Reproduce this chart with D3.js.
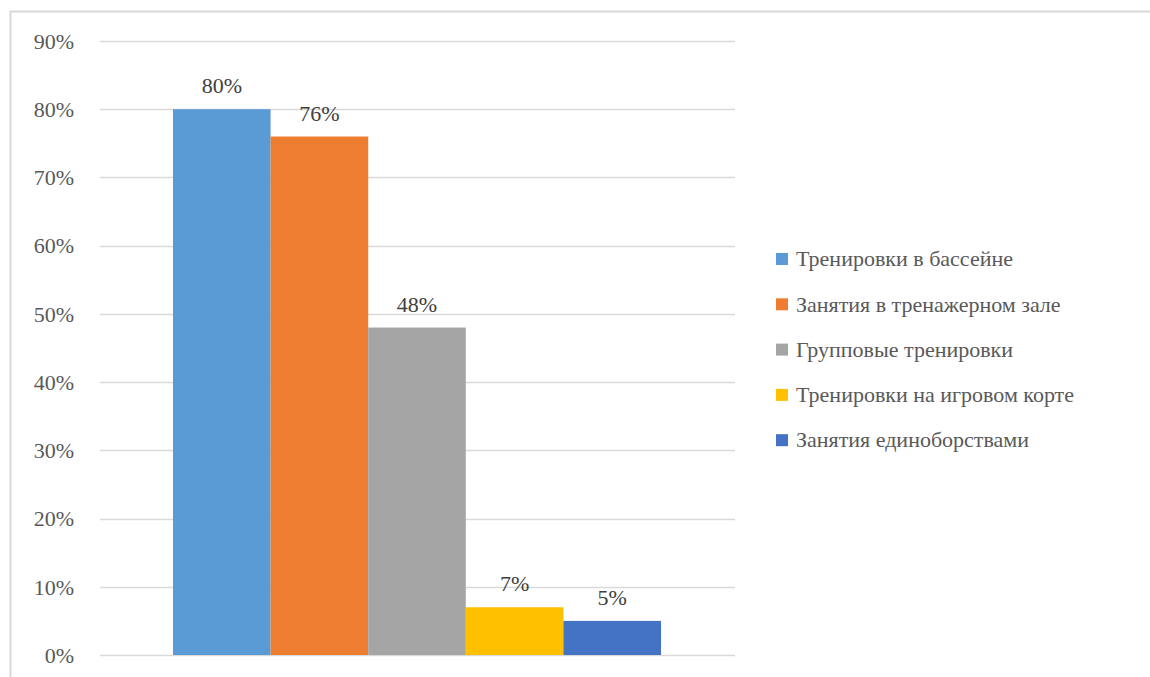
<!DOCTYPE html>
<html>
<head>
<meta charset="utf-8">
<script src="https://cdn.jsdelivr.net/npm/d3@7"></script>
<style>
  @font-face {
    font-family: "ChartSerif";
    src: local("Liberation Serif"), local("LiberationSerif"), local("LiberationSerif-Regular"), local("Times New Roman"), local("Tinos");
  }
</style>
</head>
<body style="margin:0;padding:0;background:#fff">
<svg id="chart" width="1150" height="677"></svg>
<script>
// Share of members by type of training
const categories = [
  "Тренировки в бассейне",
  "Занятия в тренажерном зале",
  "Групповые тренировки",
  "Тренировки на игровом корте",
  "Занятия единоборствами"
];
const values = [80, 76, 48, 7, 5];
const colors = ["#5b9bd5", "#ed7d31", "#a5a5a5", "#ffc000", "#4472c4"];
const yTicks = [0, 10, 20, 30, 40, 50, 60, 70, 80, 90];

const FONT = "'Liberation Serif', ChartSerif, 'Times New Roman', serif";
const svg = d3.select("#chart").style("display", "block");
const W = 1150, H = 677;

// Chart frame
svg.append("rect")
  .attr("x", 10.5).attr("y", 11.5)
  .attr("width", W).attr("height", H)
  .attr("fill", "#fff")
  .attr("stroke", "#d9d9d9").attr("stroke-width", 2);

const plot = { left: 100, right: 735, top: 41, bottom: 655 };

const y = d3.scaleLinear().domain([0, 90]).range([plot.bottom, plot.top]);
const x = d3.scaleBand()
  .domain(categories)
  .range([plot.left + 73, plot.right - 74])
  .paddingInner(0).paddingOuter(0);

// Horizontal gridlines
svg.append("g")
  .selectAll("line")
  .data(yTicks)
  .join("line")
  .attr("x1", plot.left).attr("x2", plot.right)
  .attr("y1", d => Math.round(y(d)) + 0.5)
  .attr("y2", d => Math.round(y(d)) + 0.5)
  .attr("stroke", "#d9d9d9").attr("stroke-width", 1.5);

// Y axis labels
const yAxis = d3.axisLeft(y).tickValues(yTicks).tickFormat(d => d + "%").tickSize(0).tickPadding(0);
const ga = svg.append("g").attr("transform", `translate(${plot.left - 26},0)`).call(yAxis);
ga.attr("font-family", null).attr("font-size", null);
ga.select(".domain").remove();
ga.selectAll("text")
  .style("font-family", FONT, "important")
  .style("font-size", "22px", "important")
  .attr("fill", "#595959")
  .attr("dy", "0.33em");

// Bars
svg.append("g")
  .selectAll("rect")
  .data(categories)
  .join("rect")
  .attr("x", d => x(d))
  .attr("y", (d, i) => y(values[i]))
  .attr("width", x.bandwidth())
  .attr("height", (d, i) => y(0) - y(values[i]))
  .attr("fill", (d, i) => colors[i]);

// Value labels
svg.append("g")
  .selectAll("text")
  .data(categories)
  .join("text")
  .attr("x", d => x(d) + x.bandwidth() / 2)
  .attr("y", (d, i) => y(values[i]) - 16)
  .attr("text-anchor", "middle")
  .attr("fill", "#404040")
  .style("font-family", FONT, "important")
  .style("font-size", "22px", "important")
  .text((d, i) => values[i] + "%");

// Legend
const legend = svg.append("g").attr("transform", "translate(776,259)");
const item = legend.selectAll("g")
  .data(categories)
  .join("g")
  .attr("transform", (d, i) => `translate(0,${i * 45.3})`);
item.append("rect")
  .attr("x", 0).attr("y", -6)
  .attr("width", 12).attr("height", 12)
  .attr("fill", (d, i) => colors[i]);
item.append("text")
  .attr("x", 20).attr("y", 0)
  .attr("dy", "0.33em")
  .attr("fill", "#595959")
  .style("font-family", FONT, "important")
  .style("font-size", "22px", "important")
  .text(d => d);
</script>
</body>
</html>
